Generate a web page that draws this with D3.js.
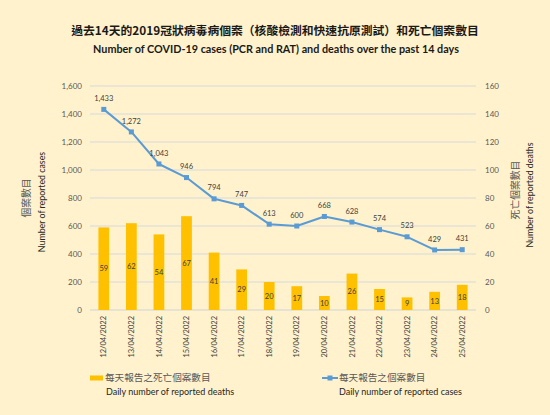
<!DOCTYPE html>
<html>
<head>
<meta charset="utf-8">
<script src="https://cdn.jsdelivr.net/npm/d3@7"></script>
<style>
  body { margin: 0; background: #fff2cc; }
  svg { display: block; }
  text { font-family: Lato, "Open Sans", sans-serif; }
  .cjk { font-family: "Noto Sans CJK TC", sans-serif; }
</style>
</head>
<body>
<div id="chart"></div>
<script>
// Chart data
const dates = ["12/04/2022", "13/04/2022", "14/04/2022", "15/04/2022", "16/04/2022", "17/04/2022", "18/04/2022",
  "19/04/2022", "20/04/2022", "21/04/2022", "22/04/2022", "23/04/2022", "24/04/2022", "25/04/2022"];
const cases = [1433, 1272, 1043, 946, 794, 747, 613, 600, 668, 628, 574, 523, 429, 431];
const deaths = [59, 62, 54, 67, 41, 29, 20, 17, 10, 26, 15, 9, 13, 18];
const casesTicks = [0, 200, 400, 600, 800, 1000, 1200, 1400, 1600];
const deathsTicks = [0, 20, 40, 60, 80, 100, 120, 140, 160];

function createChart() {
  const W = 550, H = 415;
  const margin = {top: 86, right: 74, bottom: 105, left: 90},
    width = W - margin.left - margin.right,
    height = H - margin.top - margin.bottom;

  const root = d3.select("#chart")
    .append("svg")
    .attr("width", W)
    .attr("height", H);

  root.append("rect").attr("width", W).attr("height", H).attr("fill", "#fff2cc");

  // Titles
  root.append("text")
    .attr("class", "cjk")
    .attr("x", 275).attr("y", 35)
    .attr("text-anchor", "middle")
    .attr("font-size", 11.8).attr("font-weight", 700)
    .attr("fill", "#1a1a1a")
    .text("過去14天的2019冠狀病毒病個案（核酸檢測和快速抗原測試）和死亡個案數目");
  root.append("text")
    .attr("x", 276).attr("y", 53)
    .attr("text-anchor", "middle")
    .attr("font-size", 10.8).attr("font-weight", 700)
    .attr("fill", "#1a1a1a")
    .text("Number of COVID-19 cases (PCR and RAT) and deaths over the past 14 days");

  const svg = root.append("g")
    .attr("transform", `translate(${margin.left},${margin.top})`);

  const x = d3.scaleBand()
    .domain(dates)
    .range([0, width]);

  const yCases = d3.scaleLinear().domain([0, 1600]).range([height, 0]);
  const yDeaths = d3.scaleLinear().domain([0, 160]).range([height, 0]);

  // Gridlines
  svg.append("g")
    .selectAll("line")
    .data(casesTicks)
    .join("line")
    .attr("x1", 0).attr("x2", width)
    .attr("y1", d => yCases(d)).attr("y2", d => yCases(d))
    .attr("stroke", d => d === 0 ? "#cfd3da" : "#d6d9df")
    .attr("stroke-width", 1);

  // Left axis
  const leftAxis = svg.append("g")
    .call(d3.axisLeft(yCases).tickValues(casesTicks).tickSize(0).tickPadding(8).tickFormat(d3.format(",")));
  leftAxis.select(".domain").remove();
  leftAxis.selectAll("text").attr("font-size", 8).attr("fill", "#595959").attr("font-family", "Lato, sans-serif");

  // Right axis
  const rightAxis = svg.append("g")
    .attr("transform", `translate(${width},0)`)
    .call(d3.axisRight(yDeaths).tickValues(deathsTicks).tickSize(0).tickPadding(9));
  rightAxis.select(".domain").remove();
  rightAxis.selectAll("text").attr("font-size", 8).attr("fill", "#595959").attr("font-family", "Lato, sans-serif");

  // X axis
  const xAxis = svg.append("g")
    .attr("transform", `translate(0,${height})`)
    .call(d3.axisBottom(x).tickSize(0));
  xAxis.select(".domain").remove();
  xAxis.selectAll("text")
    .attr("font-size", 7.5)
    .attr("fill", "#404040")
    .attr("font-family", "Lato, sans-serif")
    .attr("transform", "rotate(-90)")
    .attr("text-anchor", "end")
    .attr("x", -6)
    .attr("y", 0)
    .attr("dy", "0.35em");

  // Bars (deaths)
  const barW = x.bandwidth() * 0.39;
  svg.selectAll(".bar")
    .data(deaths)
    .join("rect")
    .attr("class", "bar")
    .attr("x", (d, i) => x(dates[i]) + (x.bandwidth() - barW) / 2)
    .attr("y", d => yDeaths(d))
    .attr("width", barW)
    .attr("height", d => height - yDeaths(d))
    .attr("fill", "#ffc000");

  svg.selectAll(".bar-label")
    .data(deaths)
    .join("text")
    .attr("class", "bar-label")
    .attr("x", (d, i) => x(dates[i]) + x.bandwidth() / 2)
    .attr("y", d => (yDeaths(d) + height) / 2)
    .attr("dy", "0.35em")
    .attr("text-anchor", "middle")
    .attr("font-size", 7.5)
    .attr("fill", "#404040")
    .text(d => d);

  // Line (cases)
  const line = d3.line()
    .x((d, i) => x(dates[i]) + x.bandwidth() / 2)
    .y(d => yCases(d));

  svg.append("path")
    .datum(cases)
    .attr("fill", "none")
    .attr("stroke", "#5b9bd5")
    .attr("stroke-width", 2)
    .attr("stroke-linejoin", "round")
    .attr("d", line);

  svg.selectAll(".dot")
    .data(cases)
    .join("rect")
    .attr("class", "dot")
    .attr("x", (d, i) => x(dates[i]) + x.bandwidth() / 2 - 2.5)
    .attr("y", d => yCases(d) - 2.5)
    .attr("width", 5)
    .attr("height", 5)
    .attr("fill", "#5b9bd5");

  svg.selectAll(".dot-label")
    .data(cases)
    .join("text")
    .attr("class", "dot-label")
    .attr("x", (d, i) => x(dates[i]) + x.bandwidth() / 2)
    .attr("y", d => yCases(d) - 11)
    .attr("dy", "0.35em")
    .attr("text-anchor", "middle")
    .attr("font-size", 7.5)
    .attr("fill", "#404040")
    .text(d => d3.format(",")(d));

  // Axis titles
  root.append("text")
    .attr("class", "cjk")
    .attr("transform", "translate(27,198) rotate(-90)")
    .attr("text-anchor", "middle").attr("dy", "0.35em")
    .attr("font-size", 9.8).attr("fill", "#595959")
    .text("個案數目");
  root.append("text")
    .attr("transform", "translate(42,202) rotate(-90)")
    .attr("text-anchor", "middle").attr("dy", "0.35em")
    .attr("font-size", 8.8).attr("fill", "#262626")
    .text("Number of reported cases");
  root.append("text")
    .attr("class", "cjk")
    .attr("transform", "translate(516,190) rotate(-90)")
    .attr("text-anchor", "middle").attr("dy", "0.35em")
    .attr("font-size", 9.8).attr("fill", "#595959")
    .text("死亡個案數目");
  root.append("text")
    .attr("transform", "translate(530,195) rotate(-90)")
    .attr("text-anchor", "middle").attr("dy", "0.35em")
    .attr("font-size", 8.8).attr("fill", "#262626")
    .text("Number of reported deaths");

  // Legend
  const legend = root.append("g");
  legend.append("rect")
    .attr("x", 90).attr("y", 375.5).attr("width", 13).attr("height", 5)
    .attr("fill", "#ffc000");
  legend.append("text")
    .attr("class", "cjk")
    .attr("x", 105).attr("y", 378).attr("dy", "0.35em")
    .attr("font-size", 9.6).attr("fill", "#595959")
    .text("每天報告之死亡個案數目");
  legend.append("text")
    .attr("x", 106).attr("y", 391.5).attr("dy", "0.35em")
    .attr("font-size", 9).attr("fill", "#262626")
    .text("Daily number of reported deaths");

  legend.append("line")
    .attr("x1", 322).attr("x2", 338).attr("y1", 378).attr("y2", 378)
    .attr("stroke", "#5b9bd5").attr("stroke-width", 2);
  legend.append("rect")
    .attr("x", 327.5).attr("y", 375.5).attr("width", 5).attr("height", 5)
    .attr("fill", "#5b9bd5");
  legend.append("text")
    .attr("class", "cjk")
    .attr("x", 339).attr("y", 378).attr("dy", "0.35em")
    .attr("font-size", 9.6).attr("fill", "#595959")
    .text("每天報告之個案數目");
  legend.append("text")
    .attr("x", 339).attr("y", 391.5).attr("dy", "0.35em")
    .attr("font-size", 9).attr("fill", "#262626")
    .text("Daily number of reported cases");

  return svg;
}

window.addEventListener('load', () => {
  createChart();
});
</script>
</body>
</html>
